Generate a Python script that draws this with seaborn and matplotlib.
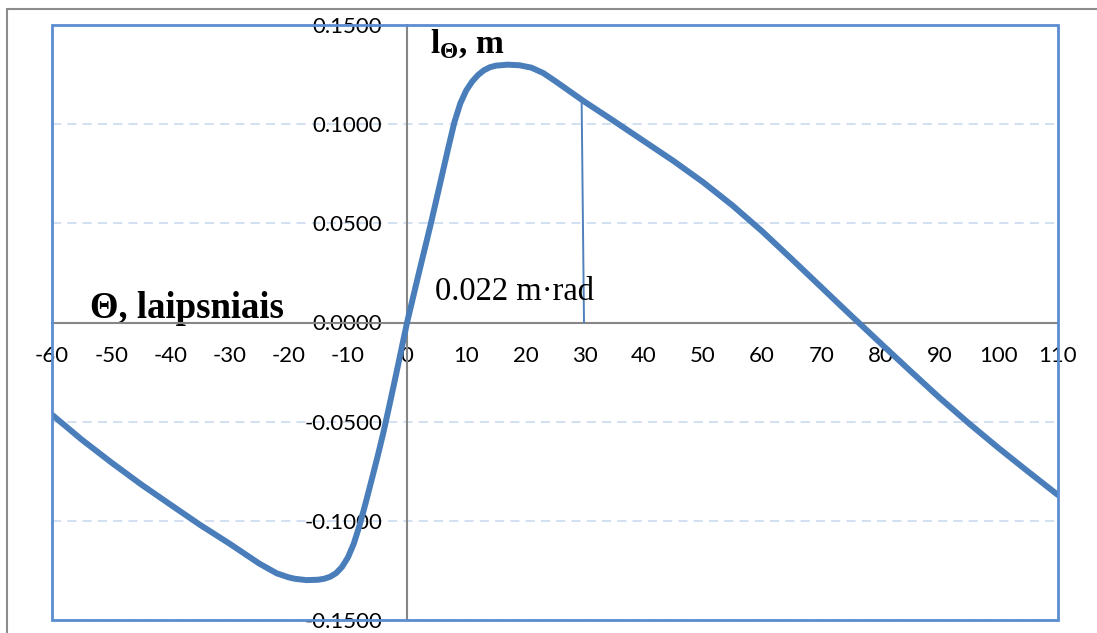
import matplotlib
matplotlib.use("Agg")
import matplotlib.pyplot as plt
import matplotlib.ticker as mticker
from matplotlib.patches import Rectangle
import seaborn as sns

# righting lever curve
theta = [-60, -55, -50, -45, -40, -35, -30, -27, -25, -22, -20, -19, -17, -15, -14,
         -13, -12, -11, -10, -9, -8, -7, -6, -5, -4, -3, -2, -1, 0, 2, 4, 6, 7, 8,
         9, 10, 11, 12, 13, 14, 15, 17, 19, 21, 23, 25, 27, 30, 35, 40, 45, 50, 55,
         60, 65, 70, 75, 80, 85, 90, 95, 100, 105, 110]
l_theta = [-0.0465, -0.0590, -0.0705, -0.0815, -0.0918, -0.1020, -0.1115, -0.1175,
           -0.1215, -0.1265, -0.1285, -0.1292, -0.1299, -0.1297, -0.1292, -0.1282,
           -0.1264, -0.1233, -0.1185, -0.1115, -0.1020, -0.0910, -0.0795, -0.0678,
           -0.0555, -0.0420, -0.0282, -0.0141, 0.0, 0.0250, 0.0496, 0.0755, 0.0885,
           0.1010, 0.1105, 0.1170, 0.1215, 0.1248, 0.1272, 0.1287, 0.1295, 0.1300,
           0.1297, 0.1285, 0.1258, 0.1218, 0.1176, 0.1113, 0.1015, 0.0915, 0.0815,
           0.0708, 0.0590, 0.0460, 0.0320, 0.0178, 0.0036, -0.0104, -0.0243,
           -0.0380, -0.0510, -0.0634, -0.0753, -0.0870]

# thin marker line at 30 degrees
mark_theta = [29.5, 29.9]
mark_l = [0.1122, 0.0]

x_ticks = list(range(-60, 111, 10))
y_ticks = [-0.15, -0.10, -0.05, 0.0, 0.05, 0.10, 0.15]

sns.set_style("white")
plt.rcParams["font.family"] = ["Lato", "DejaVu Sans"]
plt.rcParams["mathtext.fontset"] = "custom"
plt.rcParams["mathtext.rm"] = "Liberation Serif"
plt.rcParams["mathtext.bf"] = "Liberation Serif:bold"

W, H = 1097, 633
fig = plt.figure(figsize=(W / 100, H / 100), dpi=100)
ax = fig.add_axes([52 / W, 1 - 620 / H, (1058 - 52) / W, (620 - 25) / H])

blue = "#4A7EBB"
gray = "#868686"

sns.lineplot(x=theta, y=l_theta, ax=ax, color=blue, lw=4.3, zorder=3, sort=False)
ax.plot(mark_theta, mark_l, color="#4F81BD", lw=1.4, zorder=3)

ax.set_xlim(-60, 110)
ax.set_ylim(-0.15, 0.15)
ax.set_xticks(x_ticks)
ax.set_yticks(y_ticks)
ax.yaxis.set_minor_locator(mticker.MultipleLocator(0.01))
ax.yaxis.set_major_formatter(mticker.FuncFormatter(lambda v, p: "{:.4f}".format(v).replace("-0.0000", "0.0000")))
ax.xaxis.set_major_formatter(mticker.FuncFormatter(lambda v, p: "{:d}".format(int(round(v)))))

# axes cross at the origin, like Excel
ax.spines["left"].set_position(("data", 0))
ax.spines["bottom"].set_position(("data", 0))
for s in ("left", "bottom"):
    ax.spines[s].set_color(gray)
    ax.spines[s].set_linewidth(1.5)
for s in ("top", "right"):
    ax.spines[s].set_visible(False)

ax.tick_params(axis="y", which="both", direction="in", length=4.5, width=1.5,
               color=gray, labelcolor="black", labelsize=16, pad=18)
ax.tick_params(axis="x", which="major", direction="out", length=5.8, width=1.5,
               color=gray, labelcolor="black", labelsize=16, pad=11)

ax.yaxis.grid(True, which="major", color="#C6D7EF", lw=1.1, ls=(0, (6, 4)))
ax.xaxis.grid(False)
ax.set_xlabel("")
ax.set_ylabel("")

# plot area border
ax.add_patch(Rectangle((0, 0), 1, 1, transform=ax.transAxes, fill=False,
                       edgecolor="#5B8DD0", lw=2, clip_on=False, zorder=4))
# chart area border
fig.patches.append(Rectangle((7 / W, -0.1), 1.2, 1 - 9 / H + 0.1,
                             transform=fig.transFigure, fill=False,
                             edgecolor="#8C8C8C", lw=1.5))

serif = ["Liberation Serif", "DejaVu Serif"]
ax.text(-53.6, 0.0023, "Θ, laipsniais", family=serif, fontweight="bold",
        fontsize=26.5, color="black", va="baseline", ha="left", zorder=2)
ax.text(3.9, 0.1359, r"$\mathbf{l}_{\mathbf{\Theta}}$, m", family=serif,
        fontweight="bold", fontsize=24, color="black", va="baseline", ha="left")
ax.text(4.7, 0.0113, "0.022 m·rad", family=serif, fontsize=23.5,
        color="black", va="baseline", ha="left")

fig.savefig("out.png", dpi=100)
